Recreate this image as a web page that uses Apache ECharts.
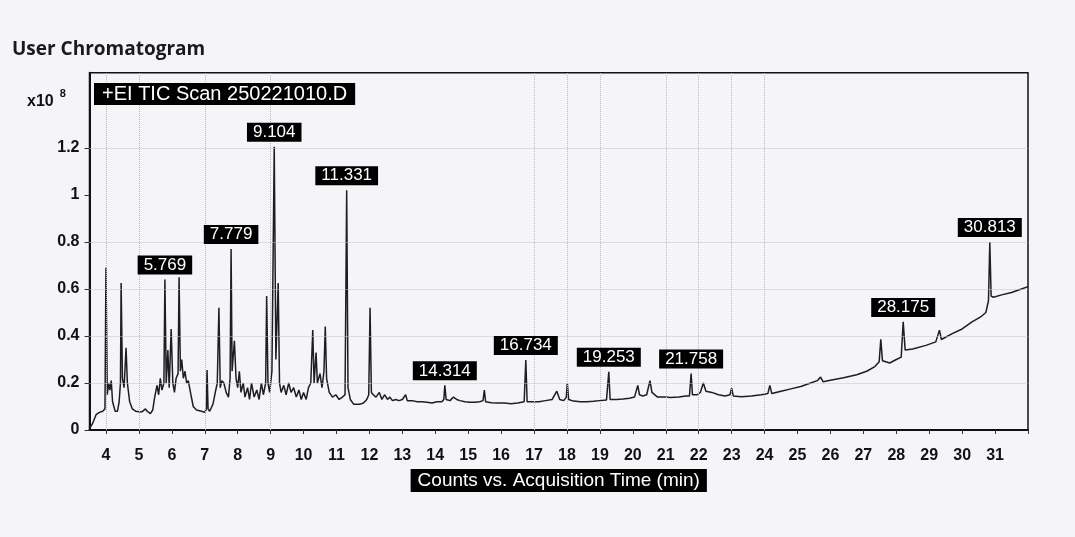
<!DOCTYPE html>
<html>
<head>
<meta charset="utf-8">
<script src="https://cdn.jsdelivr.net/npm/echarts@6/dist/echarts.min.js"></script>
<style>
  html, body { margin: 0; padding: 0; background: #f5f4f9; }
  #chart { width: 1075px; height: 537px; }
</style>
</head>
<body>
<div id="chart"></div>
<script>
// Acquisition time (min)
const times = [
  3.52, 3.6, 3.7, 3.8, 3.9, 3.97, 4.0, 4.04, 4.08, 4.12, 4.16, 4.2, 4.28, 4.35, 4.4, 4.44, 4.46, 4.5, 4.55, 4.61,
  4.65, 4.72, 4.8, 4.9, 5.0, 5.1, 5.2, 5.25, 5.35, 5.42, 5.48, 5.55, 5.6, 5.65, 5.7, 5.76, 5.79, 5.83, 5.88, 5.92,
  5.98, 6.03, 6.08, 6.13, 6.19, 6.22, 6.26, 6.3, 6.35, 6.4, 6.45, 6.5, 6.58, 6.65, 6.75, 6.9, 7.0, 7.05, 7.07, 7.1,
  7.15, 7.25, 7.32, 7.38, 7.43, 7.47, 7.52, 7.58, 7.65, 7.72, 7.77, 7.80, 7.83, 7.9, 7.95, 8.0, 8.05, 8.1, 8.17, 8.22,
  8.3, 8.36, 8.42, 8.5, 8.58, 8.65, 8.72, 8.78, 8.85, 8.88, 8.92, 8.97, 9.04, 9.11, 9.16, 9.23, 9.27, 9.32, 9.4, 9.47,
  9.55, 9.62, 9.7, 9.78, 9.86, 9.93, 10.0, 10.08, 10.15, 10.22, 10.28, 10.32, 10.38, 10.42, 10.5, 10.56, 10.62, 10.66, 10.7, 10.78,
  10.88, 10.98, 11.08, 11.18, 11.26, 11.31, 11.35, 11.42, 11.52, 11.62, 11.72, 11.82, 11.92, 11.98, 12.02, 12.06, 12.12, 12.2, 12.3, 12.38,
  12.46, 12.55, 12.62, 12.7, 12.8, 12.9, 13.0, 13.1, 13.15, 13.3, 13.45, 13.6, 13.75, 13.9, 14.05, 14.2, 14.26, 14.29, 14.33, 14.45,
  14.55, 14.65, 14.75, 14.9, 15.05, 15.2, 15.35, 15.45, 15.49, 15.53, 15.7, 15.9, 16.1, 16.3, 16.5, 16.7, 16.75, 16.79, 16.95, 17.15,
  17.35, 17.55, 17.69, 17.78, 17.9, 17.98, 18.01, 18.05, 18.2, 18.4, 18.6, 18.8, 19.0, 19.2, 19.27, 19.31, 19.5, 19.7, 19.9, 20.05,
  20.15, 20.2, 20.3, 20.42, 20.52, 20.58, 20.75, 20.95, 21.15, 21.4, 21.6, 21.72, 21.77, 21.81, 21.95, 22.05, 22.14, 22.22, 22.4, 22.6,
  22.8, 22.95, 23.0, 23.05, 23.3, 23.6, 23.9, 24.1, 24.16, 24.22, 24.5, 24.8, 25.1, 25.4, 25.6, 25.7, 25.78, 26.0, 26.4, 26.8,
  27.1, 27.35, 27.48, 27.53, 27.58, 27.8, 28.0, 28.15, 28.21, 28.27, 28.5, 28.9, 29.2, 29.31, 29.37, 29.7, 30.0, 30.3, 30.55, 30.72,
  30.8, 30.84, 30.88, 30.95, 31.2, 31.5, 31.8, 32.0
];
// Counts (x10^8)
const counts = [
  0.01, 0.03, 0.065, 0.075, 0.08, 0.09, 0.69, 0.15, 0.2, 0.17, 0.21, 0.12, 0.08, 0.08, 0.12, 0.2, 0.625, 0.22, 0.18, 0.35,
  0.2, 0.12, 0.09, 0.08, 0.078, 0.078, 0.09, 0.08, 0.07, 0.085, 0.14, 0.19, 0.15, 0.22, 0.17, 0.2, 0.64, 0.2, 0.34, 0.18,
  0.43, 0.2, 0.16, 0.22, 0.24, 0.65, 0.25, 0.3, 0.22, 0.25, 0.2, 0.21, 0.15, 0.1, 0.085, 0.08, 0.075, 0.09, 0.255, 0.09,
  0.08, 0.11, 0.16, 0.2, 0.52, 0.18, 0.21, 0.2, 0.16, 0.14, 0.22, 0.77, 0.25, 0.38, 0.22, 0.18, 0.25, 0.16, 0.2, 0.14,
  0.18, 0.13, 0.2, 0.14, 0.17, 0.13, 0.2, 0.15, 0.2, 0.57, 0.2, 0.16, 0.25, 1.205, 0.3, 0.625, 0.2, 0.16, 0.19, 0.15,
  0.2, 0.16, 0.18, 0.14, 0.17, 0.13, 0.16, 0.13, 0.18, 0.2, 0.425, 0.2, 0.33, 0.2, 0.24, 0.18, 0.25, 0.44, 0.22, 0.16,
  0.14, 0.15, 0.13, 0.14, 0.15, 1.02, 0.18, 0.13, 0.11, 0.11, 0.11, 0.115, 0.13, 0.15, 0.52, 0.16, 0.15, 0.14, 0.16, 0.13,
  0.15, 0.13, 0.14, 0.125, 0.13, 0.125, 0.13, 0.15, 0.125, 0.125, 0.12, 0.12, 0.118, 0.115, 0.12, 0.12, 0.13, 0.19, 0.13, 0.125,
  0.14, 0.13, 0.125, 0.12, 0.118, 0.118, 0.12, 0.125, 0.17, 0.12, 0.116, 0.115, 0.115, 0.112, 0.115, 0.12, 0.298, 0.12, 0.12, 0.12,
  0.125, 0.13, 0.165, 0.13, 0.125, 0.14, 0.2, 0.13, 0.123, 0.12, 0.12, 0.122, 0.125, 0.128, 0.248, 0.13, 0.13, 0.132, 0.135, 0.14,
  0.19, 0.15, 0.145, 0.15, 0.21, 0.16, 0.14, 0.14, 0.138, 0.14, 0.145, 0.145, 0.24, 0.15, 0.15, 0.16, 0.2, 0.165, 0.16, 0.15,
  0.145, 0.15, 0.178, 0.145, 0.142, 0.145, 0.15, 0.155, 0.19, 0.155, 0.165, 0.175, 0.185, 0.2, 0.21, 0.225, 0.205, 0.212, 0.222, 0.235,
  0.25, 0.27, 0.29, 0.386, 0.295, 0.285, 0.3, 0.31, 0.46, 0.34, 0.345, 0.36, 0.375, 0.425, 0.385, 0.41, 0.43, 0.46, 0.48, 0.5,
  0.55, 0.80, 0.57, 0.565, 0.575, 0.585, 0.6, 0.61
];
// Labelled peaks: apex times and their retention-time labels
const peakTimes = [5.79, 7.80, 9.11, 11.31, 14.29, 16.75, 19.27, 21.77, 28.21, 30.84];
const peakLabels = ['5.769', '7.779', '9.104', '11.331', '14.314', '16.734', '19.253', '21.758', '28.175', '30.813'];
// Tick labels
const xTicks = [4,5,6,7,8,9,10,11,12,13,14,15,16,17,18,19,20,21,22,23,24,25,26,27,28,29,30,31,32];
const xTickLabels = [4,5,6,7,8,9,10,11,12,13,14,15,16,17,18,19,20,21,22,23,24,25,26,27,28,29,30,31];
const yTicks = [0, 0.2, 0.4, 0.6, 0.8, 1, 1.2];
// Dotted vertical grid lines seen in the plot
const greyGridTimes = [4, 5, 7, 9];
const pinkGridTimes = [17, 18, 19, 21, 22, 23, 24];

const trace = times.map((t, i) => [t, counts[i]]);
const peaks = peakTimes.map((t, i) => ({ value: [t, counts[times.indexOf(t)]], name: peakLabels[i] }));

const chart = echarts.init(document.getElementById('chart'), null, { renderer: 'canvas' });
const labelFont = 'Liberation Sans';
chart.setOption({
  backgroundColor: '#f5f4f9',
  animation: false,
  title: [
    { text: 'User Chromatogram', left: 7, top: 35,
      textStyle: { fontFamily: 'Open Sans', fontWeight: 'bold', fontSize: 19, color: '#1a1a1a' } },
    { text: '+EI TIC Scan 250221010.D', left: 94, top: 83, padding: [1, 8], backgroundColor: '#000',
      textStyle: { fontFamily: labelFont, fontSize: 20, color: '#fff', fontWeight: 'normal' } },
    { text: '{a|x10}{b|8}', left: 27, top: 88, padding: 0,
      textStyle: { rich: {
        a: { fontFamily: labelFont, fontSize: 16, fontWeight: 'bold', color: '#111', verticalAlign: 'bottom', lineHeight: 22 },
        b: { fontFamily: labelFont, fontSize: 11, color: '#111', verticalAlign: 'top', lineHeight: 22, padding: [0, 0, 0, 6] }
      } } }
  ],
  grid: { left: 89.5, right: 47, top: 72.8, bottom: 107, show: true, borderColor: '#111', borderWidth: 1.5, backgroundColor: 'transparent' },
  xAxis: {
    type: 'value', min: 3.5, max: 32,
    name: 'Counts vs. Acquisition Time (min)', nameLocation: 'middle', nameGap: 34,
    nameTextStyle: { fontFamily: labelFont, fontSize: 19, color: '#fff', backgroundColor: '#000', padding: [2, 7] },
    axisLine: { show: true, lineStyle: { color: '#111', width: 2 } },
    axisTick: { show: true, customValues: xTicks, length: 4, inside: false, lineStyle: { color: '#333' } },
    axisLabel: { customValues: xTickLabels, fontFamily: labelFont, fontWeight: 'bold', fontSize: 16, color: '#111', margin: 18 },
    splitLine: { show: false }
  },
  yAxis: {
    type: 'value', min: 0, max: 1.52,
    axisLine: { show: true, lineStyle: { color: '#111', width: 2 } },
    axisTick: { show: true, customValues: yTicks, length: 5, lineStyle: { color: '#333' } },
    axisLabel: { customValues: yTicks, fontFamily: labelFont, fontWeight: 'bold', fontSize: 16, color: '#111', margin: 10,
      formatter: v => String(Math.round(v * 10) / 10) },
    splitLine: { show: false }
  },
  series: [
    {
      type: 'line', data: trace, symbol: 'none', smooth: false,
      lineStyle: { color: '#1e1e1e', width: 1.5 },
      z: 3,
      markLine: {
        silent: true, symbol: 'none', label: { show: false },
        data: [
          ...yTicks.filter(v => v > 0 && v !== 1).map(v => ({ yAxis: v, lineStyle: { color: '#c9c2c8', type: 'dotted', width: 1 } })),
          ...greyGridTimes.map(t => ({ xAxis: t, lineStyle: { color: '#b8b8b8', type: 'dotted', width: 1 } })),
          ...pinkGridTimes.map(t => ({ xAxis: t, lineStyle: { color: '#e0a9b6', type: 'dotted', width: 1 } }))
        ]
      }
    },
    {
      type: 'scatter', data: peaks, symbolSize: 0, z: 5,
      itemStyle: { opacity: 1 },
      label: {
        show: true, position: 'top', distance: 5, opacity: 1,
        formatter: p => p.name,
        fontFamily: labelFont, fontSize: 17, color: '#fff', backgroundColor: '#000', padding: [1, 6, 1, 6]
      }
    }
  ]
});
</script>
</body>
</html>
